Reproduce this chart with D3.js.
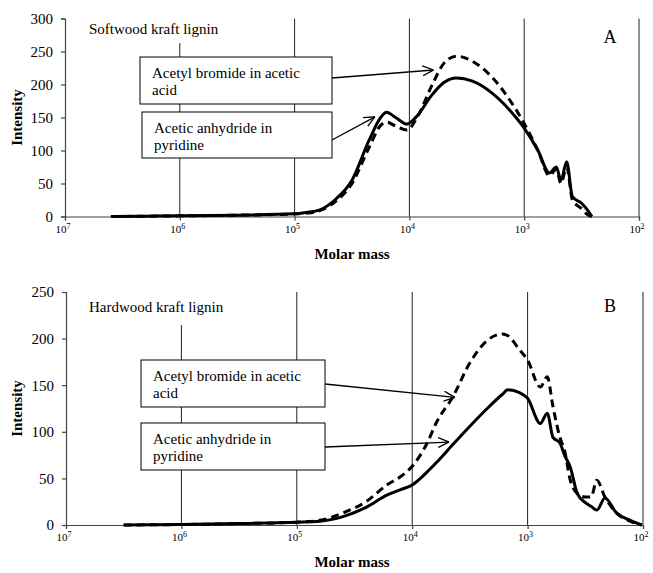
<!DOCTYPE html>
<html>
<head>
<meta charset="utf-8">
<script src="https://cdn.jsdelivr.net/npm/d3@7"></script>
<style>
  body { margin: 0; background: #fff; }
  svg { display: block; }
  text { font-family: "Liberation Serif", "Times New Roman", serif; fill: #000; }
  .grid { stroke: #222; stroke-width: 1; }
  .axis path, .axis line { stroke: #444; stroke-width: 1.2; }
  .curve { fill: none; stroke: #000; stroke-width: 3; stroke-linejoin: round; }
  .curve.dashed { stroke-dasharray: 8,5; }
  .box { fill: #fff; stroke: #000; stroke-width: 1; }
  .arrow { stroke: #000; stroke-width: 1.3; fill: none; }
</style>
</head>
<body>
<div id="chart"></div>
<script>
// ---- data ----
var decades = [1e7, 1e6, 1e5, 1e4, 1e3, 1e2];
var decadeExp = ["7", "6", "5", "4", "3", "2"];
var seriesNames = ["Acetyl bromide in acetic acid", "Acetic anhydride in pyridine"];

// Panel A, softwood kraft lignin (log10 molar mass, intensity)
var softLogM = [6.6, 6.3, 6.0, 5.5, 5.0, 4.9, 4.78, 4.65, 4.5, 4.35, 4.25, 4.2, 4.12, 4.02, 3.94, 3.8, 3.7, 3.59, 3.45, 3.28, 3.12, 3.0, 2.88, 2.78, 2.72, 2.68, 2.63, 2.58, 2.5, 2.45, 2.41];
var softAnhydride = [0, 0.5, 1, 2, 4, 6, 10, 25, 55, 116, 150, 158, 150, 140, 151, 185, 203, 210, 205, 187, 160, 134, 100, 66, 75, 55, 83, 30, 20, 10, 0];
var softBromide   = [0, 0.5, 1, 2, 4, 5, 9, 22, 50, 105, 138, 143, 137, 131, 148, 200, 232, 243, 235, 211, 175, 141, 100, 62, 72, 50, 75, 25, 12, 3, 0];

// Panel B, hardwood kraft lignin
var hardLogM = [6.5, 6.0, 5.5, 5.0, 4.8, 4.6, 4.4, 4.22, 4.1, 4.0, 3.87, 3.79, 3.65, 3.5, 3.35, 3.22, 3.17, 3.07, 3.0, 2.89, 2.83, 2.78, 2.72, 2.68, 2.63, 2.57, 2.5, 2.45, 2.4, 2.33, 2.23, 2.11, 2.01];
var hardAnhydride = [0, 0.5, 1.5, 3, 4, 9, 19, 32, 38, 43, 57, 67, 86, 106, 125, 140, 145, 142, 136, 109, 120, 94, 88, 75, 62, 34, 24, 20, 16, 29, 13, 5, 0];
var hardBromide   = [0, 0.5, 1.5, 3, 5, 13, 25, 43, 52, 63, 88, 110, 137, 174, 198, 205, 203, 188, 177, 148, 159, 127, 94, 80, 48, 34, 30, 30, 48, 30, 13, 4, 0];

// where the label arrows point (log10 M, intensity)
var softArrowTips = [[3.79, 222], [4.30, 151]];
var hardArrowTips = [[3.63, 137], [3.68, 89]];

var panels = [
  { title: "Softwood kraft lignin", letter: "A", logM: softLogM, bromide: softBromide, anhydride: softAnhydride,
    yMax: 300, tips: softArrowTips,
    x0: 65, x1: 639, yTop: 18.5, yBot: 216.5, titleBg: [84, 18, 140, 25], titleY: 34, letterY: 43,
    boxes: [[140, 57, 192, 47], [142, 112, 190, 46]], arrowFrom: [[332, 78], [332, 140]], tickY: 233, xlabY: 259 },
  { title: "Hardwood kraft lignin", letter: "B", logM: hardLogM, bromide: hardBromide, anhydride: hardAnhydride,
    yMax: 250, tips: hardArrowTips,
    x0: 66, x1: 643, yTop: 292, yBot: 525, titleBg: [84, 292, 140, 33], titleY: 312, letterY: 312,
    boxes: [[141, 360, 184, 47], [141, 423, 184, 47]], arrowFrom: [[325, 384], [325, 447]], tickY: 541, xlabY: 567 }
];

var W = 653, H = 573;
var svg = d3.select("#chart").append("svg").attr("width", W).attr("height", H);

svg.append("defs").append("marker")
  .attr("id", "head").attr("viewBox", "0 0 10 10")
  .attr("refX", 10).attr("refY", 5)
  .attr("markerWidth", 11).attr("markerHeight", 11)
  .attr("markerUnits", "userSpaceOnUse")
  .attr("orient", "auto")
  .append("path").attr("d", "M0,0.5 L10,5 L0,9.5")
  .attr("fill", "none").attr("stroke", "#000").attr("stroke-width", 1.2);

panels.forEach(drawPanel);

function drawPanel(p) {
  var g = svg.append("g");
  var x = d3.scaleLog().domain([1e7, 1e2]).range([p.x0, p.x1]);
  var y = d3.scaleLinear().domain([0, p.yMax]).range([p.yBot, p.yTop]);

  // vertical grid lines at each decade
  g.selectAll("line.grid").data(decades.slice(1)).enter().append("line")
    .attr("class", "grid")
    .attr("x1", function(d) { return x(d); }).attr("x2", function(d) { return x(d); })
    .attr("y1", p.yTop).attr("y2", p.yBot);

  // panel title sits on a white patch over the grid
  g.append("rect").attr("x", p.titleBg[0]).attr("y", p.titleBg[1])
    .attr("width", p.titleBg[2]).attr("height", p.titleBg[3]).attr("fill", "#fff");
  g.append("text").attr("x", 89).attr("y", p.titleY).style("font-size", "15px").text(p.title);
  g.append("text").attr("x", 610).attr("y", p.letterY).attr("text-anchor", "middle")
    .style("font-size", "18px").text(p.letter);

  // axes
  g.append("g").attr("class", "axis").attr("transform", "translate(0," + p.yBot + ")")
    .call(d3.axisBottom(x).tickValues(decades).tickFormat("").tickSizeOuter(0).tickSize(4));
  g.append("g").attr("class", "axis").attr("transform", "translate(" + p.x0 + ",0)")
    .call(d3.axisLeft(y).ticks(p.yMax / 50).tickSizeOuter(0).tickSize(4).tickPadding(8))
    .selectAll("text").style("font-size", "15px")
    .style("font-family", "'Liberation Serif', serif");

  var lab = g.selectAll("text.xt").data(decades).enter().append("text")
    .attr("class", "xt").attr("x", function(d) { return x(d) - 2; }).attr("y", p.tickY)
    .attr("text-anchor", "middle").style("font-size", "11px");
  lab.append("tspan").text("10");
  lab.append("tspan").attr("dy", -4).style("font-size", "8px").text(function(d, i) { return decadeExp[i]; });

  g.append("text").attr("x", 352).attr("y", p.xlabY).attr("text-anchor", "middle")
    .style("font-size", "15px").style("font-weight", "bold").text("Molar mass");
  g.append("text").attr("transform", "translate(22," + ((p.yTop + p.yBot) / 2) + ") rotate(-90)")
    .attr("text-anchor", "middle").style("font-size", "15px").style("font-weight", "bold").text("Intensity");

  // curves
  var line = d3.line().curve(d3.curveMonotoneX)
    .x(function(d) { return x(Math.pow(10, d[0])); })
    .y(function(d) { return y(d[1]); });
  var anhy = p.logM.map(function(m, i) { return [m, p.anhydride[i]]; });
  var brom = p.logM.map(function(m, i) { return [m, p.bromide[i]]; });
  g.append("path").attr("class", "curve").attr("d", line(anhy));
  g.append("path").attr("class", "curve dashed").attr("d", line(brom));

  // label boxes with arrows
  var lines = [["Acetyl bromide in acetic", "acid"], ["Acetic anhydride in", "pyridine"]];
  p.boxes.forEach(function(b, i) {
    g.append("rect").attr("class", "box").attr("x", b[0]).attr("y", b[1])
      .attr("width", b[2]).attr("height", b[3]);
    var t = g.append("text").attr("x", b[0] + 12).attr("y", b[1] + 21).style("font-size", "15px");
    t.append("tspan").text(lines[i][0]);
    t.append("tspan").attr("x", b[0] + 12).attr("dy", 17).text(lines[i][1]);
    g.append("line").attr("class", "arrow")
      .attr("x1", p.arrowFrom[i][0]).attr("y1", p.arrowFrom[i][1])
      .attr("x2", x(Math.pow(10, p.tips[i][0]))).attr("y2", y(p.tips[i][1]))
      .attr("marker-end", "url(#head)");
  });
}
</script>
</body>
</html>
